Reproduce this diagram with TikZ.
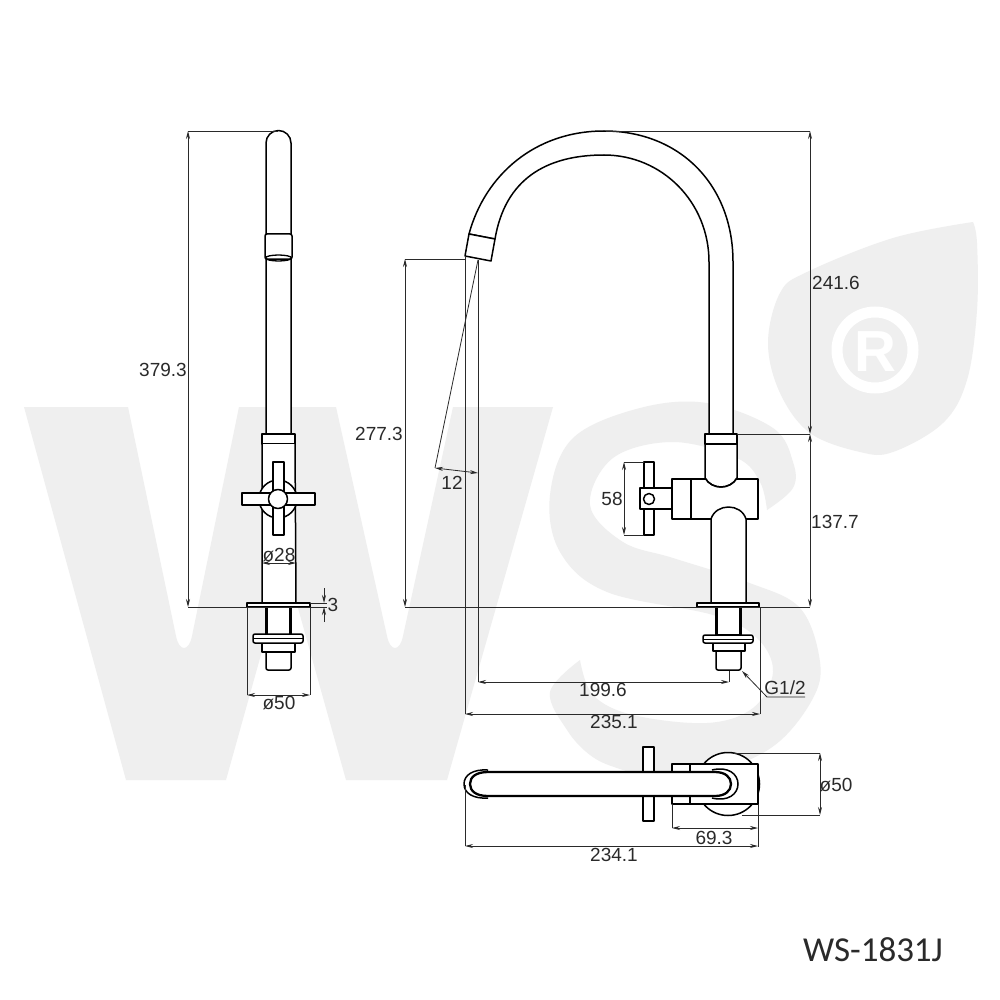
\documentclass[tikz,border=0pt]{standalone}
\usepackage{fontspec}
\setmainfont{Liberation Sans}
\newfontfamily\modelfont{Carlito}
\usetikzlibrary{arrows.meta}

\definecolor{markgray}{HTML}{EFEFEF}
\definecolor{linegray}{HTML}{2A2A2A}

\tikzset{
  body/.style={draw=black,line width=1.5pt,fill=white,line join=round},
  heavy/.style={draw=black,line width=2.6pt},
  extline/.style={draw=linegray,line width=0.8pt},
  dimline/.style={draw=linegray,line width=0.8pt,{Stealth[length=8pt,width=4pt]}-{Stealth[length=8pt,width=4pt]}},
  oneway/.style={draw=linegray,line width=0.8pt,-{Stealth[length=8pt,width=4pt]}},
  dimtext/.style={inner sep=0pt,text=linegray,font=\fontsize{19}{21}\selectfont}
}

\begin{document}
\begin{tikzpicture}[x=1pt,y=-1pt]

\fill[white] (0,0) rectangle (1000,1000);
\useasboundingbox (0,0) rectangle (1000,1000);

% Watermark W
\fill[markgray] (24,407) -- (128,407) -- (176,636) .. controls (179,652) and (189,652) .. (192,636) -- (239,407) -- (336,407)
  -- (387,636) .. controls (390,652) and (400,652) .. (403,636) -- (453,407) -- (553,407)
  -- (447,780) -- (346,780) -- (286,565) -- (226,780) -- (126,780) -- cycle;

% Watermark S
\fill[markgray] plot[smooth,tension=0.6] coordinates {(767,510) (793,488) (793,462) (773,428) (707,403) (640,408) (573,438) (550,495) (560,552) (607,592)
    (713,615) (757,638) (773,672) (753,708) (707,723) (633,715) (593,695) (580,660)}
  -- plot[smooth,tension=0.6] coordinates {(580,660) (550,692) (567,730) (590,755) (617,768) (660,778) (717,772) (775,745) (812,700) (820,662) (800,608)
    (747,582) (673,558) (623,542) (590,505) (613,458) (673,442) (737,458) (760,482) (767,510)} -- cycle;

% Watermark leaf with the registered sign
\fill[markgray] plot[smooth,tension=0.6] coordinates {(973,222) (893,238) (807,272) (780,293) (768,343) (780,393) (810,433) (860,452) (893,452) (943,423) (967,380) (977,310) (977,243) (973,222)} -- cycle;
\draw[white,line width=11pt] (875,350) circle[radius=38];
\node[inner sep=0pt,text=white,font=\fontsize{58}{60}\selectfont\bfseries] (regR) at (875,352) {R};

% Side view, spout
\draw[body] (266,434) -- (266,143) arc[start angle=180,end angle=0,x radius=12.5,y radius=-12.5] -- (291,434);
\draw[body,rounded corners=2pt] (265,234) -- (292,234) -- (292,259) -- (265,259) -- cycle;
\draw[draw=black,line width=1.3pt] (278.5,258) ellipse[x radius=13,y radius=3];

% Side view, stem and cross handle
\draw[body] (262,434) rectangle (295,444);
\draw[body] (262,444) -- (262,603) -- (296,603) -- (295,444);
\draw[body] (278,499) circle[radius=19];
\draw[body] (273,462) rectangle (284,535);
\draw[body] (242,493) rectangle (315,505);
\draw[body] (278,499) circle[radius=9.5];

% Side view, base
\draw[body] (266,607) rectangle (291,635);
\draw[heavy] (267,607) -- (267,635) (290,607) -- (290,635);
\draw[body,rounded corners=2pt] (266,652) -- (266,670) -- (291,670) -- (291,652);
\draw[body] (262,643) rectangle (295,652);
\draw[body,rounded corners=2pt] (253,634) rectangle (303,643);
\draw[draw=black,line width=1pt] (253,638.5) -- (303,638.5);
\draw[body] (247,603) rectangle (310,607);

% Front view, spout
\draw[body] (733,434) -- (733,262) .. controls (733,185) and (680,131) .. (604,131) .. controls (535,131) and (485,175) .. (469,234)
  -- (495,239) .. controls (505,180) and (545,155) .. (604,155) .. controls (662,155) and (709,202) .. (709,262) -- (709,434);
\draw[body] (469,234) -- (495,239) -- (491,261) -- (465,256) -- cycle;

% Front view, handle
\draw[body] (644,462) rectangle (654,535);
\draw[body] (640,488) rectangle (672,509);
\draw[body] (649,499) circle[radius=5.5];

% Front view, body and stem
\draw[body] (672,479) rectangle (758,519);
\draw[heavy] (691,479) -- (691,519);
\draw[body] (705,443) -- (705,478) .. controls (712,490) and (730,490) .. (737,478) -- (737,443) -- cycle;
\draw[draw=white,line width=3pt] (708,479) -- (734,479);
\draw[body] (705,434) rectangle (737,444);
\draw[draw=black,line width=1.5pt] (705,478) .. controls (712,490) and (730,490) .. (737,478);
\draw[body] (711,603) -- (711,519) .. controls (716,503) and (741,503) .. (746,519) -- (746,603);

% Front view, base
\draw[body] (716,607) rectangle (741,635);
\draw[heavy] (717,607) -- (717,635) (740,607) -- (740,635);
\draw[body,rounded corners=2pt] (716,651) -- (716,670) -- (741,670) -- (741,651);
\draw[body] (713,643) rectangle (745,651);
\draw[body,rounded corners=2pt] (703,635) rectangle (753,643);
\draw[draw=black,line width=1pt] (703,639) -- (753,639);
\draw[body] (697,603) rectangle (759,607);

% Plan view
\draw[body] (728,784) circle[radius=31.5];
\draw[body] (643,747) rectangle (654,821);
\draw[body] (672,764) rectangle (758,804);
\draw[heavy] (690,764) -- (690,804);
\draw[body] (712,770) .. controls (728,766) and (738,774) .. (738,784) .. controls (738,794) and (728,802) .. (712,798);
\draw[body] (488,770) .. controls (473,769) and (464,775) .. (464,784) .. controls (464,793) and (473,799) .. (488,798);
\draw[body,line width=2.3pt] (488,772) .. controls (476,772) and (470,777) .. (470,784) .. controls (470,791) and (476,796) .. (488,796)
  -- (715,796) .. controls (725,796) and (731,791) .. (731,784) .. controls (731,777) and (725,772) .. (715,772) -- cycle;

% Dimension points, side view
\coordinate (sideTop) at (278,131);
\coordinate (sideTopDim) at (188,131);
\coordinate (sideBaseDim) at (188,607);
\coordinate (sideBaseEnd) at (327,607);
\coordinate (stemL) at (262,563);
\coordinate (stemR) at (296,563);
\coordinate (sideFlangeL) at (247,607);
\coordinate (sideFlangeR) at (310,607);
\coordinate (sideDimL) at (247,695);
\coordinate (sideDimR) at (310,695);
\coordinate (flangeTop) at (310,603);
\coordinate (flangeTopEnd) at (327,603);
\coordinate (gapTopFree) at (324,588);
\coordinate (gapTop) at (324,603);
\coordinate (gapBotFree) at (324,622);
\coordinate (gapBot) at (324,607);

% Dimension points, front view
\coordinate (archTop) at (606,131);
\coordinate (archDim) at (810,131);
\coordinate (collarTop) at (737,434);
\coordinate (collarDim) at (810,434);
\coordinate (baseDim) at (810,607);
\coordinate (mouthDim) at (405,259);
\coordinate (mouthEnd) at (465,259);
\coordinate (baseLeft) at (405,607);
\coordinate (mouthL) at (465,256);
\coordinate (mouthLow) at (465,714);
\coordinate (mouthC) at (478,260);
\coordinate (mouthCLow) at (478,682);
\coordinate (tiltEnd) at (435,468);
\coordinate (tiltDim) at (478,473);
\coordinate (tailBot) at (729,671);
\coordinate (tailDim) at (729,682);
\coordinate (rightFlange) at (760,607);
\coordinate (rightDim) at (760,714);
\coordinate (barTop) at (644,462);
\coordinate (barBot) at (644,535);
\coordinate (barTopDim) at (624,462);
\coordinate (barBotDim) at (624,535);
\coordinate (threadEnd) at (742,671);
\coordinate (leaderBend) at (767,697);
\coordinate (leaderEnd) at (805,697);

% Dimension points, plan view
\coordinate (discTop) at (734,753);
\coordinate (discBot) at (742,815);
\coordinate (discTopDim) at (820,753);
\coordinate (discBotDim) at (820,815);
\coordinate (blockL) at (672,804);
\coordinate (blockLDim) at (672,828);
\coordinate (blockR) at (758,804);
\coordinate (blockRDim) at (758,828);
\coordinate (blockRLow) at (758,847);
\coordinate (planEnd) at (465,785);
\coordinate (planDim) at (465,846);
\coordinate (planDimR) at (758,846);

% Side view dimensions
\draw[extline] (sideTop) -- (sideTopDim);
\draw[extline] (sideBaseDim) -- (sideBaseEnd);
\draw[dimline] (sideTopDim) -- (sideBaseDim);
\draw[dimline] (stemL) -- (stemR);
\draw[extline] (sideFlangeL) -- (sideDimL);
\draw[extline] (sideFlangeR) -- (sideDimR);
\draw[dimline] (sideDimL) -- (sideDimR);
\draw[extline] (flangeTop) -- (flangeTopEnd);
\draw[oneway] (gapTopFree) -- (gapTop);
\draw[oneway] (gapBotFree) -- (gapBot);

% Front view dimensions
\draw[extline] (archTop) -- (archDim);
\draw[extline] (collarTop) -- (collarDim);
\draw[extline] (baseLeft) -- (baseDim);
\draw[dimline] (archDim) -- (collarDim);
\draw[dimline] (collarDim) -- (baseDim);
\draw[extline] (mouthDim) -- (mouthEnd);
\draw[dimline] (mouthDim) -- (baseLeft);
\draw[extline] (mouthL) -- (mouthLow);
\draw[extline] (mouthC) -- (mouthCLow);
\draw[extline] (mouthC) -- (tiltEnd);
\draw[dimline] (tiltEnd) -- (tiltDim);
\draw[dimline] (mouthCLow) -- (tailDim);
\draw[extline] (tailBot) -- (tailDim);
\draw[extline] (rightFlange) -- (rightDim);
\draw[dimline] (mouthLow) -- (rightDim);
\draw[extline] (barTop) -- (barTopDim);
\draw[extline] (barBot) -- (barBotDim);
\draw[dimline] (barTopDim) -- (barBotDim);
\draw[oneway] (leaderEnd) -- (leaderBend) -- (threadEnd);

% Plan view dimensions
\draw[extline] (discTop) -- (discTopDim);
\draw[extline] (discBot) -- (discBotDim);
\draw[dimline] (discTopDim) -- (discBotDim);
\draw[extline] (blockL) -- (blockLDim);
\draw[extline] (blockR) -- (blockRLow);
\draw[dimline] (blockLDim) -- (blockRDim);
\draw[extline] (planEnd) -- (planDim);
\draw[dimline] (planDim) -- (planDimR);

% Labels
\node[dimtext] (lblSideH) at (163,370) {379.3};
\node[dimtext] (lblStem) at (279,555) {ø28};
\node[dimtext] (lblGap) at (333,605) {3};
\node[dimtext] (lblSideBase) at (279,703) {ø50};
\node[dimtext] (lblMouth) at (379,434) {277.3};
\node[dimtext] (lblTilt) at (452,483) {12};
\node[dimtext] (lblUpper) at (836,283) {241.6};
\node[dimtext] (lblLower) at (835,522) {137.7};
\node[dimtext] (lblHandle) at (612,499) {58};
\node[dimtext] (lblTail) at (603,690) {199.6};
\node[dimtext] (lblThread) at (785,688) {G1/2};
\node[dimtext] (lblFront) at (614,722) {235.1};
\node[dimtext] (lblDisc) at (836,785) {ø50};
\node[dimtext] (lblBlock) at (714,838) {69.3};
\node[dimtext] (lblPlan) at (614,855) {234.1};
\node[inner sep=0pt,text=linegray,font=\modelfont\fontsize{35}{37}\selectfont] (lblModel) at (873,950) {WS-1831J};

\end{tikzpicture}
\end{document}
